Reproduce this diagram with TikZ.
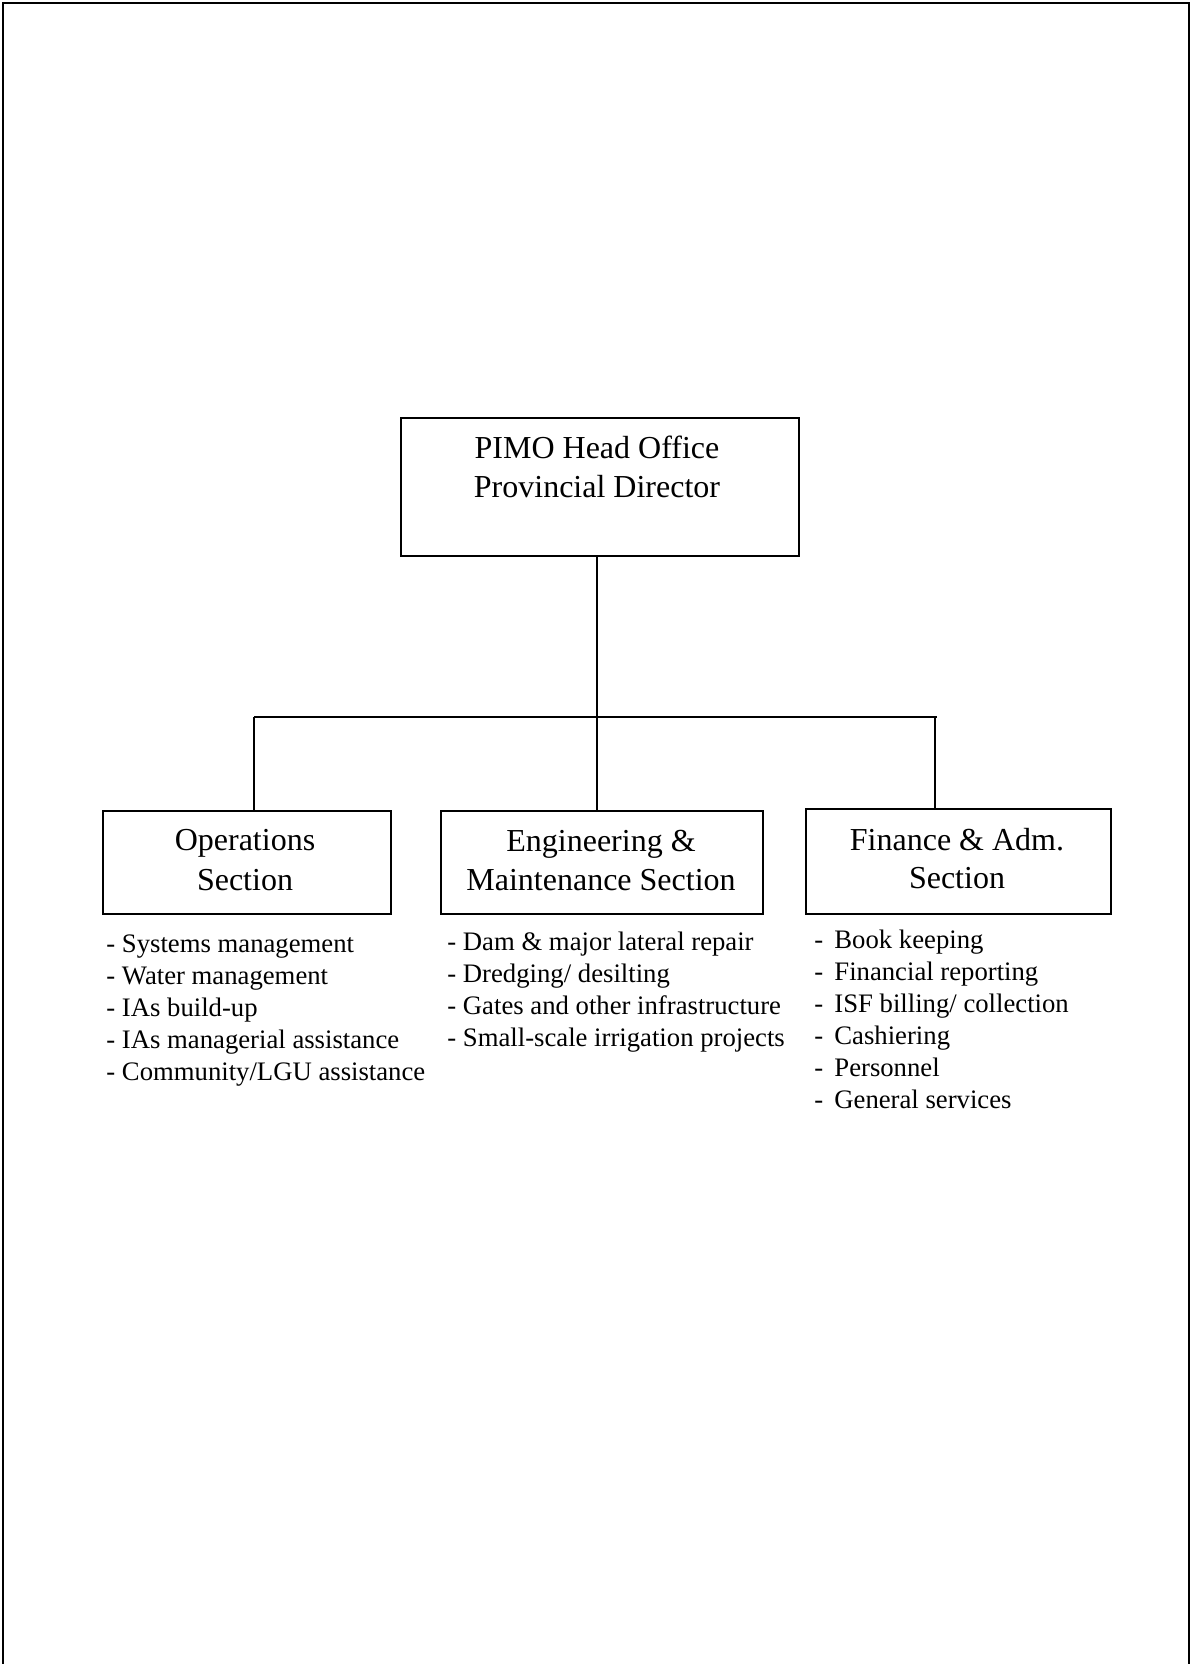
\documentclass[tikz,border=0pt]{standalone}
\usepackage{fontspec}
\setmainfont{Liberation Serif}
\begin{document}
\begin{tikzpicture}[x=0.5pt,y=-0.5pt,
  box/.style={draw,line width=1pt,anchor=north west,inner sep=0pt,minimum height=51.5pt},
  title/.style={anchor=base,inner sep=0pt,font=\fontsize{16}{19}\selectfont},
  item/.style={anchor=base west,inner sep=0pt,font=\fontsize{13.35}{16}\selectfont},
  link/.style={line width=0.75pt}]
\useasboundingbox (0,0) rectangle (1192,1664);

% page frame, open at the bottom
\draw[line width=1.2pt] (3,1664) -- (3,3) -- (1189,3) -- (1189,1664);

% head office
\node[box,minimum width=199pt,minimum height=69pt] (head) at (400,417) {};
\node[title] (head-t1) at (597,458) {PIMO Head Office};
\node[title] (head-t2) at (597,497) {Provincial Director};

% sections
\node[box,minimum width=144pt] (ops) at (102,810) {};
\node[title] (ops-t1) at (245,850) {Operations};
\node[title] (ops-t2) at (245,890) {Section};

\node[box,minimum width=161pt] (eng) at (440,810) {};
\node[title] (eng-t1) at (601,851) {Engineering \&};
\node[title] (eng-t2) at (601,890) {Maintenance Section};

\node[box,minimum width=152.5pt,minimum height=52.5pt] (fin) at (805,808) {};
\node[title] (fin-t1) at (957,850) {Finance \& Adm.};
\node[title] (fin-t2) at (957,888) {Section};

% connectors
\coordinate (jc) at (597,717);
\coordinate (jl) at (254,717);
\coordinate (jr) at (935,717);
\coordinate (je) at (937,717);
\draw[link] (head.south -| jc) -- (eng.north -| jc);
\draw[link] (jl) -- (je);
\draw[link] (jl) -- (ops.north -| jl);
\draw[link] (jr) -- (fin.north -| jr);

% duties of each section
\foreach \t [count=\i] in {Systems management,Water management,IAs build-up,IAs managerial assistance,Community/LGU assistance}
  \node[item] (ops-\i) at (106,{952+32.2*(\i-1)}) {- \t};
\foreach \t [count=\i] in {Dam \& major lateral repair,Dredging/ desilting,Gates and other infrastructure,Small-scale irrigation projects}
  \node[item] (eng-\i) at (447,{950+32*(\i-1)}) {- \t};
\foreach \t [count=\i] in {Book keeping,Financial reporting,ISF billing/ collection,Cashiering,Personnel,General services}
  \node[item] (fin-\i) at (814,{948+32*(\i-1)}) {\makebox[10pt][l]{-}\t};
\end{tikzpicture}
\end{document}
